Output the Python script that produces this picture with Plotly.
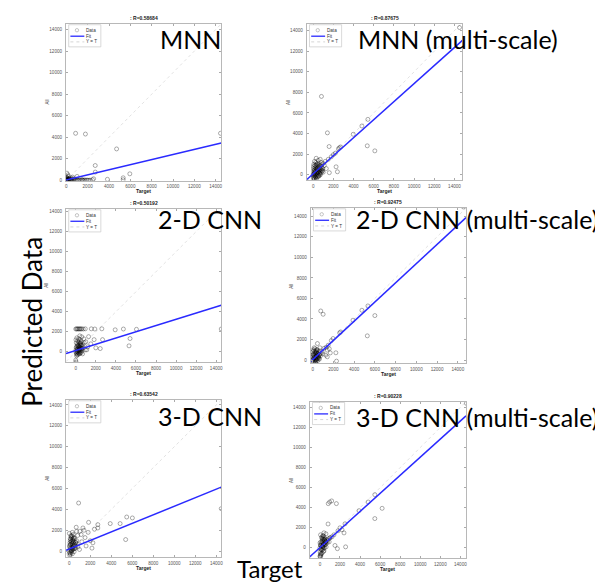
import plotly.graph_objects as go

W, H = 603, 584

panel_names = ["MNN", "MNN (multi-scale)", "2-D CNN", "2-D CNN (multi-scale)",
               "3-D CNN", "3-D CNN (multi-scale)"]
r_values = ["0.58684", "0.87675", "0.50192", "0.92475", "0.63542", "0.90228"]
fit_slopes = [0.236, 0.876, 0.311, 0.935, 0.41, 0.902]
fit_intercepts = [40, 95, 140, 40, 200, 20]
tick_values = [0, 2000, 4000, 6000, 8000, 10000, 12000, 14000]
tick_labels = ["0", "2000", "4000", "6000", "8000", "10000", "12000", "14000"]
legend_labels = ["Data", "Fit", "Y = T"]

# ---- MNN ----
mnn_target = [870, 1790, 4710, 14450, 2710, 2710, 5950, 5330, 5330, 3850, 2560, 1010, 50, 200, 150, 600, 2450, 1500,
              0, 30, 60, 90, 120, 160, 200, 250, 300, 350, 400, 450, 500, 560, 620, 680, 750, 820, 900, 980,
              1060, 1150, 1250, 1350, 1450, 1550, 1650, 1750, 1850, 1950, 2050, 2150, 2250,
              20, 40, 80, 10, 100, 300, 450, 700, 15, 70, 130, 240, 380, 520]
mnn_output = [4370, 4300, 2920, 4370, 1380, 770, 610, 240, 60, 100, 150, 370, 670, 380, 520, 300, 60, 50,
              0, 20, 50, 10, 80, 30, 0, 40, 100, 20, 60, 10, 30, 0, 50, 20, 70, 10, 0, 40,
              20, 0, 30, 10, 60, 0, 20, 40, 10, 30, 0, 20, 10,
              150, 250, 200, 320, 120, 180, 220, 150, 60, 90, 40, 110, 70, 130]

# ---- MNN (multi-scale) ----
mnn_ms_target = [820, 1410, 1580, 2720, 2600, 2500, 3970, 4830, 5420, 5360, 6110, 2270, 2400, 14500,
                 1000, 1200, 1500, 1800, 2000, 2200, 800, 1100, 1300, 900, 1600, 700, 300, 500,
                 0, 20, 50, 80, 100, 120, 150, 180, 200, 220, 250, 280, 300, 320, 350, 380, 400, 420,
                 450, 480, 500, 530, 560, 600, 630, 660, 700, 750, 800, 850, 900, 30, 60, 90, 40, 10,
                 130, 160, 70, 110, 190, 240, 260, 310, 340, 370, 410, 440, 470, 520, 570, 610, 650,
                 720, 780, 830, 870, 950, 1000, 60, 140, 210, 290, 360, 430, 510, 590, 680]
mnn_ms_output = [7610, 4070, 2740, 2700, 2620, 2520, 3930, 4740, 5380, 2810, 2320, 770, 290, 14300,
                 1100, 1300, 1500, 1750, 1950, 2100, 1200, 900, 600, 400, 200, 1500, 1600, 1400,
                 0, 100, -200, 300, -400, 500, 200, -100, 700, 0, 400, -300, 900, 150, 600, -50, 300, 1100,
                 50, 500, 250, 800, -150, 400, 650, 100, 300, 550, 200, 700, 350, 600, 1000, -500, 800, -300,
                 1300, -250, 400, 150, 900, -200, 1200, -450, 1000, 200, -200, 750, 950, -100, 1050, -50, 900,
                 0, 850, 450, 1000, 600, 250, -100, 50, 350, 550, 450, 600, 350, 150, 500]

# ---- 2-D CNN ----
cnn2_target = [0, 80, 160, 250, 330, 420, 500, 600, 750, 950, 1550, 1900, 2600, 3930, 4750, 6050, 14500,
               5410, 5310, 1830, 2670, 1280, 2440, 1000, 1200, 1500, 2000, 800, 1100, 0, 20, 600, 400,
               0, 30, 60, 90, 120, 150, 180, 210, 240, 270, 300, 330, 360, 390, 420, 450, 480, 510, 540,
               570, 600, 650, 700, 20, 50, 80, 110, 140, 170, 200, 230, 260, 290, 320, 350, 380, 410,
               440, 470, 500, 550, 620, 680, 750, 850, 950, 40, 100, 160, 220, 280, 340, 400, 460, 520, 580]
cnn2_output = [2280, 2300, 2280, 2300, 2280, 2300, 2280, 2300, 2280, 2300, 2300, 2280, 2300, 2200, 2280, 2250, 2280,
               1330, 600, 1220, 1220, 1520, 330, 1000, 500, 800, 400, 1300, 200, -830, -1000, 1500, 1600,
               0, 200, -200, 500, 100, -300, 800, 300, -100, 600, 0, 1000, 200, -150, 700, 400, 50, 900, 250,
               -50, 500, 150, 700, 1200, 900, -400, 1400, 600, 0, 1100, -250, 350, 1300, 450, -200, 850, 100,
               1200, -100, 650, 1050, 300, -200, 400, 900, 200, 400, -100, 300, 650, 150, 550, 250, 800, 350, 700]

# ---- 2-D CNN (multi-scale) ----
cnn2_ms_target = [780, 1010, 4750, 5330, 6000, 5270, 3890, 2700, 2600, 2240, 1970, 1800, 14540, 460, 1410,
                  1260, 1410, 2300, 1100, 1300, 1500, 900, 1600, 700, 1000, 1700,
                  0, 20, 40, 70, 100, 130, 160, 190, 220, 250, 280, 310, 340, 370, 400, 430, 460, 490,
                  520, 550, 580, 620, 660, 700, 750, 800, 10, 50, 90, 120, 150, 180, 210, 240, 270, 300,
                  330, 360, 390, 420, 450, 480, 510, 560, 600, 650, 30, 60, 110, 170, 230, 290, 350, 410]
cnn2_ms_output = [4780, 4460, 4850, 5270, 4330, 2360, 3880, 2740, 2650, 710, 2100, 1900, 14900, 1610, 970,
                  480, 320, -100, 1150, 1250, 1450, 800, 1100, 1200, 600, 700,
                  0, 300, -200, 600, 100, 900, -100, 400, 1100, 200, -250, 700, 50, 500, 1000, 150, 650, -50,
                  350, 800, 250, 550, 100, 900, 400, 650, 800, 500, -300, 200, 1200, 0, 600, -150, 850, 300,
                  -100, 750, 450, 100, 1000, 250, 600, 350, 150, 500, 100, 1000, 450, 250, 700, 50, 900, 400]

# ---- 3-D CNN ----
cnn3_target = [890, 5470, 6010, 4840, 3900, 2720, 2720, 1840, 1300, 660, 5370, 14470, 2250, 2160, 1130, 970,
               1500, 1800, 2400, 1000, 1600, 2000, 1200, 800, 700, 1400,
               0, 20, 40, 60, 80, 100, 120, 140, 160, 180, 200, 220, 240, 260, 280, 300, 320, 340, 360,
               380, 400, 430, 460, 490, 520, 560, 600, 650, 700, 760, 820, 10, 50, 90, 130, 170, 210, 250,
               290, 330, 370, 410, 450, 500, 550, 620, 30, 70, 110, 150, 190, 230, 270, 310, 350, 390]
cnn3_output = [4610, 3270, 3180, 2640, 2640, 2540, 2220, 2760, 2220, 2290, 1110, 4070, 800, 290, 1590, 160,
               1300, 1800, 2100, 1900, 500, 1000, 900, 1500, 1900, 2000,
               0, 400, -200, 800, 200, 1200, -300, 600, 1500, 100, 900, -100, 1300, 300, 700, -250, 1100, 500,
               150, 1600, 250, 900, -50, 600, 1200, 300, 800, 500, 1000, 700, 400, 1700, -400, 1000, 350, 1400,
               50, 750, 1800, 200, 1050, 450, 1300, 650, 250, 850, 550, -150, 650, 1150, 0, 950, 1450, 400, 850, 1250]

# ---- 3-D CNN (multi-scale) ----
cnn3_ms_target = [970, 1170, 830, 1640, 3900, 4810, 5470, 5470, 6200, 810, 2400, 2560, 1500, 1740, 2000,
                  2500, 14600, 0, 50, 1000, 1200, 1400, 1800, 600, 400, 300, 2200,
                  0, 20, 40, 70, 100, 130, 160, 190, 220, 250, 280, 310, 340, 370, 400, 430, 460, 500,
                  540, 580, 620, 670, 720, 780, 850, 920, 1000, 10, 60, 90, 120, 150, 180, 210, 240, 270,
                  300, 330, 360, 390, 420, 450, 480, 520, 560, 610, 30, 80, 140, 200, 260, 320, 380, 440]
cnn3_ms_output = [4570, 4680, 4410, 4410, 3710, 4570, 5300, 2920, 3940, 2380, 1490, 100, 240, -80, 2000,
                  2400, 14400, -820, -600, 1000, 1100, 1300, 1700, 1400, 1500, 1200, 1800,
                  0, -400, 300, -700, 600, -200, 1000, 100, -500, 800, 200, -100, 1200, 400, -300, 700, 0, 900,
                  300, 600, 100, 800, 500, 700, 900, 600, 1000, 500, 1300, -800, 200, -600, 400, 1100, -200, 650,
                  150, 900, -350, 450, 1050, 250, 750, 350, 550, 650, -900, 250, -150, 550, 950, 50, 350, 850]

targets = [mnn_target, mnn_ms_target, cnn2_target, cnn2_ms_target, cnn3_target, cnn3_ms_target]
outputs = [mnn_output, mnn_ms_output, cnn2_output, cnn2_ms_output, cnn3_output, cnn3_ms_output]

# axis limits (data units) per panel
x_ranges = [[-30, 14520], [-630, 14790], [-970, 14500], [-180, 14790], [-310, 14470], [-1010, 14560]]
y_ranges = [[-30, 14520], [-550, 14650], [-1060, 14260], [-330, 14800], [-570, 14480], [-1050, 14570]]

# panel plot-area rectangles in pixels: left, top, right, bottom
rects = [(57.3, 16.0, 213.3, 173.3), (299.3, 16.0, 455.7, 173.0),
         (57.3, 201.7, 213.3, 355.7), (303.3, 200.7, 459.3, 356.7),
         (57.3, 393.3, 213.3, 551.0), (302.3, 395.0, 459.3, 552.3)]
# centre of the large panel captions (pixels)
big_label_pos = [(182, 31), (451, 31), (202, 212), (470, 212), (202, 409), (470, 410)]


def px(x):
    return x / W


def py(y):
    return 1 - y / H


fig = go.Figure()
annotations = []
shapes = []
small = dict(family="Liberation Sans", size=4.6, color="#555")


def note(text, x, y, size, color="#222", family="Liberation Sans", xanchor="center", angle=0,
         yanchor="middle"):
    annotations.append(dict(text=text, x=px(x), y=py(y), xref="paper", yref="paper",
                            xanchor=xanchor, yanchor=yanchor, showarrow=False, textangle=angle,
                            borderpad=0, font=dict(family=family, size=size, color=color)))


for i in range(6):
    k = "" if i == 0 else str(i + 1)
    xa, ya = "x" + k, "y" + k
    L, T, R, B = rects[i]
    x0, x1 = x_ranges[i]
    fig.add_trace(go.Scatter(
        x=[x0, x1], y=[x0, x1], mode="lines", xaxis=xa, yaxis=ya,
        line=dict(color="#cfcfcf", width=0.6, dash="dot"), showlegend=False, hoverinfo="skip"))
    fig.add_trace(go.Scatter(
        x=targets[i], y=outputs[i], mode="markers", xaxis=xa, yaxis=ya,
        marker=dict(symbol="circle-open", size=4, color="rgba(0,0,0,0.55)", line=dict(width=0.6)),
        showlegend=False, hoverinfo="skip"))
    fig.add_trace(go.Scatter(
        x=[x0, x1], y=[fit_slopes[i] * x0 + fit_intercepts[i], fit_slopes[i] * x1 + fit_intercepts[i]],
        mode="lines", xaxis=xa, yaxis=ya,
        line=dict(color="#2a2aff", width=1.5), showlegend=False, hoverinfo="skip"))

    axis_common = dict(showgrid=False, zeroline=False, showline=True, mirror="ticks",
                       linecolor="#b8b8b8", linewidth=1, ticks="inside", ticklen=2,
                       tickcolor="#aaa", tickwidth=0.6, tickvals=tick_values, ticktext=tick_labels,
                       tickfont=small)
    fig.layout["xaxis" + k] = dict(axis_common, domain=[px(L), px(R)], range=x_ranges[i],
                                   anchor=ya, ticklabelstandoff=1)
    fig.layout["yaxis" + k] = dict(axis_common, domain=[py(B), py(T)], range=y_ranges[i],
                                   anchor=xa, ticklabelstandoff=2)

    cx = (L + R) / 2
    note("<b>: R=" + r_values[i] + "</b>", cx, T - 6, 5)
    note("<b>Target</b>", cx, B + 10.5, 5)
    note("All", L - 19, (T + B) / 2, 4.5, color="#444", angle=-90)
    # legend box
    shapes.append(dict(type="rect", xref="paper", yref="paper",
                       x0=px(L + 2.7), x1=px(L + 35), y0=py(T + 0.8), y1=py(T + 23),
                       line=dict(color="#c8c8c8", width=0.7), fillcolor="white"))
    shapes.append(dict(type="circle", xref="paper", yref="paper",
                       x0=px(L + 9.3), x1=px(L + 12.7), y0=py(T + 4.6), y1=py(T + 8),
                       line=dict(color="#aaa", width=0.7)))
    shapes.append(dict(type="line", xref="paper", yref="paper",
                       x0=px(L + 4.4), x1=px(L + 18.4), y0=py(T + 12.3), y1=py(T + 12.3),
                       line=dict(color="#2a2aff", width=1.3)))
    shapes.append(dict(type="line", xref="paper", yref="paper",
                       x0=px(L + 4.4), x1=px(L + 18.4), y0=py(T + 18), y1=py(T + 18),
                       line=dict(color="#c4c4c4", width=0.7, dash="dot")))
    for j, lab in enumerate(legend_labels):
        note(lab, L + 19.4, T + 6.3 + 5.9 * j, 4.6, color="#333", xanchor="left")
    # big panel caption
    bx, by = big_label_pos[i]
    note(panel_names[i], bx, by, 25, color="black", family="Lato")

note("Predicted Data", 23, 315, 26, color="black", family="Lato", angle=-90)
note("Target", 262, 562, 24, color="black", family="Lato")

fig.update_layout(width=W, height=H, margin=dict(l=0, r=0, t=0, b=0),
                  paper_bgcolor="white", plot_bgcolor="white",
                  annotations=annotations, shapes=shapes, showlegend=False)
fig.write_html("out.html")
